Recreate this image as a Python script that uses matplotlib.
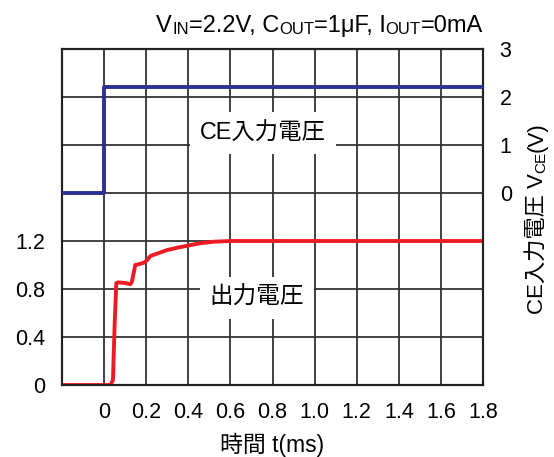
import numpy as np
import matplotlib.pyplot as plt
from matplotlib.ticker import FixedLocator, FixedFormatter

plt.rcParams['font.family'] = ['Liberation Sans', 'Noto Sans CJK JP', 'DejaVu Sans']

# CE入力電圧 (V)
t_ce = [-0.2, 0.0, 0.0, 1.8]
v_ce = [0.0, 0.0, 2.2, 2.2]

# 出力電圧 (V)
t_out = [-0.2, 0.03, 0.042, 0.05, 0.058, 0.067, 0.10, 0.125, 0.132, 0.148, 0.172,
         0.19, 0.204, 0.22, 0.26, 0.30, 0.35, 0.394, 0.45, 0.52, 0.6, 1.8]
v_out = [0.0, 0.0, 0.04, 0.5, 0.85, 0.855, 0.85, 0.84, 0.86, 1.0, 1.01,
         1.02, 1.04, 1.075, 1.10, 1.125, 1.145, 1.16, 1.18, 1.194, 1.2, 1.2]

x_ticks = [-0.2, 0, 0.2, 0.4, 0.6, 0.8, 1.0, 1.2, 1.4, 1.6, 1.8]
x_labels = ['', '0', '0.2', '0.4', '0.6', '0.8', '1.0', '1.2', '1.4', '1.6', '1.8']
out_ticks = [0, 0.4, 0.8, 1.2, 1.6, 2.0, 2.4, 2.8]
out_labels = ['0', '0.4', '0.8', '1.2', '', '', '', '']
ce_ticks = [0, 1, 2, 3]

blue = '#2e3192'
red = '#ed1c24'
fs = 15.5

fig = plt.figure(figsize=(5.54, 4.57), dpi=100)
ax = fig.add_axes([0.1119, 0.1575, 0.76, 0.7353])
ax2 = ax.twinx()

ax.set_xlim(-0.2, 1.8)
ax.set_ylim(0, 2.8)
ax2.set_ylim(-4, 3)

ax.xaxis.set_major_locator(FixedLocator(x_ticks))
ax.xaxis.set_major_formatter(FixedFormatter(x_labels))
ax.yaxis.set_major_locator(FixedLocator(out_ticks))
ax.yaxis.set_major_formatter(FixedFormatter(out_labels))
ax2.set_yticks(ce_ticks)
ax2.set_yticklabels([str(v) for v in ce_ticks])

# grid and frame
ax.grid(True, color='#333333', linewidth=1.3)
ax.tick_params(axis='x', length=0, pad=12, labelsize=fs)
ax.tick_params(axis='y', length=0, pad=12, labelsize=fs)
ax2.tick_params(axis='y', length=0, pad=12, labelsize=fs)
for a in (ax, ax2):
    for s in a.spines.values():
        s.set_linewidth(1.5)
        s.set_color('#222222')

ax.plot(t_out, v_out, color=red, linewidth=2.8, zorder=4)
ax2.plot(t_ce, v_ce, color=blue, linewidth=2.8, zorder=4)

box = dict(facecolor='white', edgecolor='none', pad=7)
ax2.text(0.755, 1.25, 'CE入力電圧', fontsize=16.8, ha='center', va='center',
         bbox=box, zorder=3)
ax.text(0.725, 0.725, '出力電圧', fontsize=17, ha='center', va='center',
        bbox=box, zorder=3)

ax.set_xlabel('時間 t(ms)', fontsize=16.5, labelpad=7)

fig.canvas.draw()
r = fig.canvas.get_renderer()

# title with small-caps subscripts, right aligned to the frame
title_parts = [('V', 17), ('IN', 12), ('=2.2V, C', 17), ('OUT', 12), ('=1μF, I', 17),
               ('OUT', 12), ('=0mA', 17)]
prev = fig.text(0.0, 0.0, title_parts[0][0], fontsize=title_parts[0][1], va='bottom')
pieces = [prev]
for txt, size in title_parts[1:]:
    prev = ax.annotate(txt, xy=(1, 0), xycoords=prev, fontsize=size,
                       va='bottom', ha='left', annotation_clip=False)
    pieces.append(prev)
fig.canvas.draw()
w = pieces[-1].get_window_extent(r).x1 - pieces[0].get_window_extent(r).x0
pieces[0].set_position(((483 - w) / 554, (457 - 37) / 457))

# right axis label, rotated, with small-caps subscript
label_parts = [('CE入力電圧 V', 16), ('CE', 11), ('(V)', 16)]
prev = fig.text(0.0, 0.0, label_parts[0][0], fontsize=label_parts[0][1],
                rotation=90, ha='right', va='bottom')
lpieces = [prev]
for txt, size in label_parts[1:]:
    prev = ax.annotate(txt, xy=(1, 1), xycoords=prev, fontsize=size, rotation=90,
                       ha='right', va='bottom', annotation_clip=False)
    lpieces.append(prev)
fig.canvas.draw()
h = lpieces[-1].get_window_extent(r).y1 - lpieces[0].get_window_extent(r).y0
lpieces[0].set_position((548 / 554, (457 - 218 - h / 2) / 457))

fig.savefig('out.png', dpi=100)
